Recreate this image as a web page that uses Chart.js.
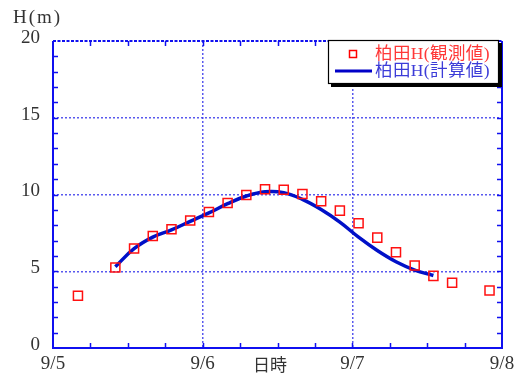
<!DOCTYPE html>
<html>
<head>
<meta charset="utf-8">
<script src="https://cdn.jsdelivr.net/npm/chart.js@4/dist/chart.umd.min.js"></script>
<style>
html,body{margin:0;padding:0;background:#fff;}
#wrap{width:521px;height:378px;position:relative;}
</style>
</head>
<body>
<div id="wrap"><canvas id="c" width="521" height="378"></canvas></div>
<script>
// ---- data ----
const xTickLabels = ["9/5", "9/6", "9/7", "9/8"];   // every 24 h
const obsHours = [4, 10, 13, 16, 19, 22, 25, 28, 31, 34, 37, 40, 43, 46, 49, 52, 55, 58, 61, 64, 70];
const obsH     = [3.40, 5.24, 6.48, 7.30, 7.74, 8.30, 8.86, 9.45, 9.97, 10.34, 10.31, 10.03, 9.56, 8.95, 8.13, 7.19, 6.24, 5.37, 4.70, 4.25, 3.75];
const calcHours = [10, 13, 16, 19, 22, 25, 28, 31, 34, 37, 40, 43, 46, 49, 52, 55, 58, 61];
const calcH     = [5.30, 6.47, 7.22, 7.69, 8.25, 8.80, 9.40, 9.90, 10.18, 10.12, 9.68, 9.02, 8.20, 7.22, 6.35, 5.62, 5.08, 4.72];
const seriesNames = ["柏田H(観測値)", "柏田H(計算値)"];
const yTitle = "H(m)";
const xTitle = "日時";

const SERIF = "'Liberation Serif', 'Noto Sans CJK JP', serif";
const AXIS_BLUE = "#1010f0";

const decoPlugin = {
  id: 'deco',
  beforeDatasetsDraw(chart) {
    const ctx = chart.ctx;
    const xs = chart.scales.x, ys = chart.scales.y;
    const L = xs.getPixelForValue(0), R = xs.getPixelForValue(72);
    const T = ys.getPixelForValue(20), B = ys.getPixelForValue(0);
    ctx.save();
    ctx.strokeStyle = AXIS_BLUE;
    ctx.lineWidth = 1.5;
    ctx.beginPath();
    for (let v = 1; v < 20; v++) {
      const y = Math.round(ys.getPixelForValue(v)) + 0.5;
      ctx.moveTo(L, y); ctx.lineTo(L + 5, y);
      ctx.moveTo(R, y); ctx.lineTo(R - 5, y);
    }
    for (let h = 6; h < 72; h += 6) {
      const x = Math.round(xs.getPixelForValue(h)) + 0.5;
      ctx.moveTo(x, B); ctx.lineTo(x, B - 5);
      ctx.moveTo(x, T); ctx.lineTo(x, T + 5);
    }
    ctx.stroke();
    ctx.lineWidth = 2;
    ctx.beginPath();
    ctx.moveTo(L, T); ctx.lineTo(L, B); ctx.lineTo(R, B); ctx.lineTo(R, T);
    ctx.stroke();
    ctx.setLineDash([3, 1.5]);
    ctx.beginPath();
    ctx.moveTo(L, T); ctx.lineTo(R, T);
    ctx.stroke();
    ctx.restore();
  },
  afterDraw(chart) {
    const ctx = chart.ctx;
    ctx.save();
    ctx.fillStyle = '#333';
    ctx.textBaseline = 'middle';
    ctx.textAlign = 'left';
    ctx.font = "19px " + SERIF;
    try { ctx.letterSpacing = '2px'; } catch (e) {}
    ctx.fillText(yTitle, 13, 18);
    try { ctx.letterSpacing = '0px'; } catch (e) {}
    ctx.textAlign = 'center';
    ctx.font = "17px " + SERIF;
    ctx.fillText(xTitle, 270, 367);
    const bx = 328, by = 40, bw = 171, bh = 44;
    ctx.fillStyle = '#000';
    ctx.fillRect(bx + 3, by + 3, bw, bh);
    ctx.fillStyle = '#fff';
    ctx.fillRect(bx, by, bw, bh);
    ctx.strokeStyle = '#000';
    ctx.lineWidth = 1.2;
    ctx.strokeRect(bx + 0.5, by + 0.5, bw - 1, bh - 1);
    ctx.strokeStyle = '#ff0000';
    ctx.lineWidth = 1.5;
    ctx.strokeRect(349.5, 50.5, 7, 7);
    ctx.strokeStyle = '#0000c8';
    ctx.lineWidth = 3;
    ctx.beginPath(); ctx.moveTo(335, 71); ctx.lineTo(372, 71); ctx.stroke();
    ctx.textAlign = 'left';
    ctx.font = "17.5px " + SERIF;
    try { ctx.letterSpacing = '0.4px'; } catch (e) {}
    ctx.fillStyle = '#ff3838';
    ctx.fillText(seriesNames[0], 375, 54);
    ctx.fillStyle = '#3c3cd8';
    ctx.fillText(seriesNames[1], 375, 71);
    ctx.restore();
  }
};

const gridColor = (edgeMax) => (c) => {
  const v = c.tick ? c.tick.value : null;
  if (v === null || v === 0 || v === edgeMax) return 'rgba(0,0,0,0)';
  return 'rgba(60,60,235,0.85)';
};

new Chart(document.getElementById('c'), {
  type: 'scatter',
  data: {
    datasets: [
      {
        label: seriesNames[0],
        data: obsHours.map((h, i) => ({ x: h, y: obsH[i] })),
        pointStyle: 'rect',
        pointRadius: 6.4,
        pointBorderColor: '#ff1010',
        pointBackgroundColor: 'rgba(255,255,255,0)',
        pointBorderWidth: 1.5,
        showLine: false,
        order: 0
      },
      {
        label: seriesNames[1],
        data: calcHours.map((h, i) => ({ x: h, y: calcH[i] })),
        showLine: true,
        borderColor: '#0010c8',
        borderWidth: 3.5,
        pointRadius: 0,
        tension: 0.4,
        fill: false,
        order: 1
      }
    ]
  },
  options: {
    responsive: false,
    animation: false,
    devicePixelRatio: 1,
    layout: { padding: { top: 41, right: 19, left: 0, bottom: 0 } },
    plugins: { legend: { display: false }, tooltip: { enabled: false } },
    scales: {
      x: {
        type: 'linear', min: 0, max: 72,
        afterFit: (s) => { s.height = 30; },
        ticks: {
          stepSize: 24,
          padding: 5,
          color: '#333',
          font: { family: SERIF, size: 19 },
          maxRotation: 0,
          callback: (v) => xTickLabels[Math.round(v / 24)]
        },
        grid: { color: gridColor(72), lineWidth: 1.5, drawTicks: false },
        border: { display: false, dash: [2, 2] }
      },
      y: {
        min: 0, max: 20,
        afterFit: (s) => { s.width = 53; },
        ticks: {
          stepSize: 5,
          padding: 13,
          labelOffset: -3,
          color: '#333',
          font: { family: SERIF, size: 19 }
        },
        grid: { color: gridColor(20), lineWidth: 1.5, drawTicks: false },
        border: { display: false, dash: [2, 2] }
      }
    }
  },
  plugins: [decoPlugin]
});
</script>
</body>
</html>
